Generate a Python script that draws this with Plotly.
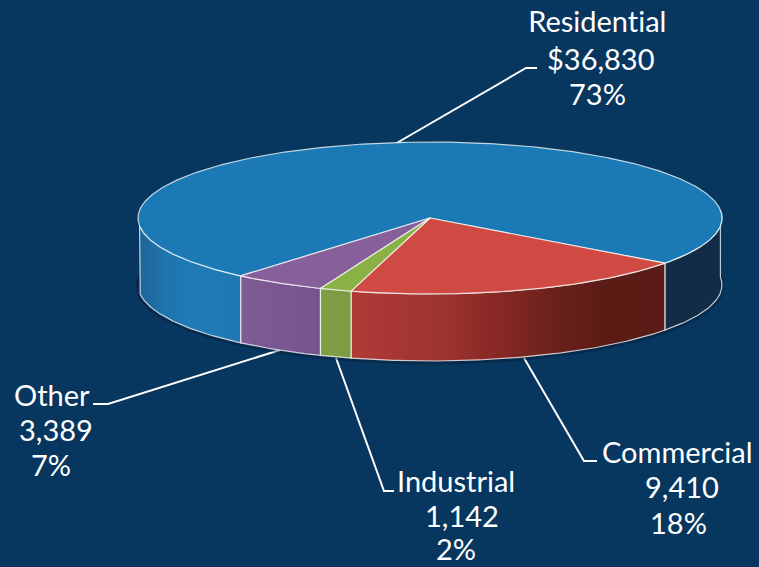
import numpy as np
import plotly.graph_objects as go

categories = ["Residential", "Commercial", "Industrial", "Other"]
values = [36830, 9410, 1142, 3389]
value_labels = ["$36,830", "9,410", "1,142", "3,389"]
percent_labels = ["73%", "18%", "2%", "7%"]

BG = "#07365e"
W, H = 759, 567
CX, CY, RX, RY, DEPTH = 430, 218, 292, 76, 67
START, WARP, WARP_AT = 35.0, 7.0, 119.0
EDGE = "rgba(255,255,255,0.75)"

top_colors = {"Residential": "#1b7ab5", "Commercial": "#cf4a42", "Industrial": "#8ab145", "Other": "#865f9b"}
side_scales = {
    "Commercial": [[0, "#b03a36"], [0.3, "#9c332f"], [0.45, "#8a2925"], [0.65, "#6b211c"], [0.8, "#5c1c16"], [1, "#5a1c16"]],
    "Industrial": [[0, "#7f9f45"], [1, "#7c9a44"]],
    "Other": [[0, "#7f5b96"], [1, "#75548c"]],
}
left_scale = [[0, "#1f6597"], [0.25, "#2073ab"], [0.5, "#1f7ab5"], [1, "#1f78b2"]]
right_scale = [[0, "#122c47"], [1, "#122c47"]]


def warp(t):
    return t + WARP * np.sin(np.radians(2 * (WARP_AT - t)))


def rim(t0, t1, dy=0.0, n=None):
    n = n or max(int(abs(t1 - t0)) * 2, 6)
    t = np.radians(warp(np.linspace(t0, t1, n)))
    return CX + RX * np.cos(t), CY + RY * np.sin(t) + dy


fractions = np.array(values) / sum(values) * 360
spans = {}
a = START
for name in ["Commercial", "Industrial", "Other", "Residential"]:
    d = fractions[categories.index(name)]
    spans[name] = (a, a + d)
    a += d

fig = go.Figure()


def poly(x, y, color=None, gradient=None, line=EDGE, width=1.2):
    kw = dict(fillgradient=dict(type="horizontal", colorscale=gradient)) if gradient else dict(fillcolor=color)
    fig.add_trace(go.Scatter(x=x, y=y, mode="lines", fill="toself", hoverinfo="skip",
                             line=dict(color=line, width=width), **kw))


def side(t0, t1, gradient):
    tx, ty = rim(t0, t1)
    bx, by = rim(t1, t0, DEPTH)
    poly(np.r_[tx, bx, tx[0]], np.r_[ty, by, ty[0]], gradient=gradient)


leaders = [
    ([395, 526, 537], [144, 68, 68]),
    ([524, 584, 597], [358, 461, 461]),
    ([336, 384, 394], [358, 491, 491]),
    ([280, 108, 93], [350, 404, 404]),
]
for lx, ly in leaders:
    fig.add_trace(go.Scatter(x=lx, y=ly, mode="lines", hoverinfo="skip", line=dict(color="white", width=2)))

sx, sy = rim(-12, 192, DEPTH + 1)
fig.add_trace(go.Scatter(x=sx, y=sy, mode="lines", hoverinfo="skip",
                         line=dict(color="rgba(3,20,40,0.35)", width=5)))

r0, r1 = spans["Residential"]
side(r0, 180, left_scale)
side(360, r1, right_scale)
side(*spans["Commercial"], side_scales["Commercial"])
side(*spans["Other"], side_scales["Other"])
side(*spans["Industrial"], side_scales["Industrial"])

for name in ["Residential", "Other", "Commercial", "Industrial"]:
    t0, t1 = spans[name]
    rx, ry = rim(t0, t1)
    poly(np.r_[CX, rx, CX], np.r_[CY, ry, CY], color=top_colors[name])

label_pos = {
    "Residential": ([597, 601, 597], [20, 58, 93]),
    "Commercial": ([677, 682, 678], [451, 486, 522]),
    "Industrial": ([456, 462, 456], [480, 515, 548]),
    "Other": ([52, 56, 51], [394, 429, 464]),
}
annotations = []
for name, val, pct in zip(categories, value_labels, percent_labels):
    xs, ys = label_pos[name]
    for txt, px, y in zip([name, val, pct], xs, ys):
        annotations.append(dict(x=px, y=y, text=txt, showarrow=False, xanchor="center", yanchor="middle",
                                font=dict(family="Lato", size=29, color="white")))

fig.update_layout(
    width=W, height=H, margin=dict(l=0, r=0, t=0, b=0), showlegend=False,
    paper_bgcolor=BG, plot_bgcolor=BG, annotations=annotations,
    xaxis=dict(range=[0, W], visible=False, fixedrange=True),
    yaxis=dict(range=[H, 0], visible=False, fixedrange=True),
)
page_css = (
    "document.body.style.margin='0';document.body.style.overflow='hidden';"
    f"document.body.style.background='{BG}';"
    "var s=document.createElement('style');"
    "s.textContent='text{font-variant-ligatures:none !important;font-feature-settings:\"liga\" 0,\"clig\" 0 !important}';"
    "document.head.appendChild(s);"
)
fig.write_html("out.html", config={"displayModeBar": False}, post_script=page_css)
